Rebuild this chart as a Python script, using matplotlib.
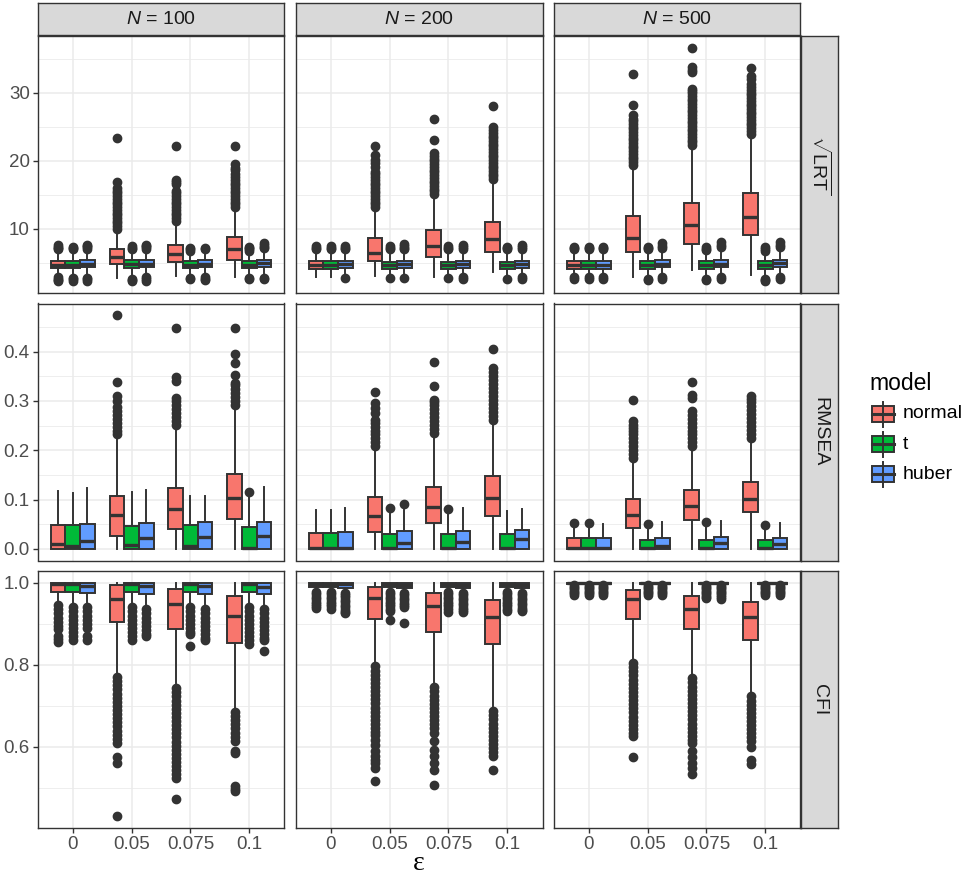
import numpy as np
import matplotlib.pyplot as plt
from matplotlib.patches import Rectangle

plt.rcParams['font.family'] = 'Liberation Sans'
plt.rcParams['mathtext.fontset'] = 'custom'
plt.rcParams['mathtext.rm'] = 'Liberation Sans'
plt.rcParams['mathtext.it'] = 'Liberation Sans:italic'

N_values = [100, 200, 500]
eps_labels = ['0', '0.05', '0.075', '0.1']
models = ['normal', 't', 'huber']
colors = ['#F8766D', '#00BA38', '#619CFF']

# box stats: whislo, q1, median, q3, whishi
# order: N (100, 200, 500) -> eps (0, .05, .075, .1) -> model (normal, t, huber)
lrt_box = [
    [3.2, 4.3, 4.75, 5.35, 6.9], [3.2, 4.3, 4.75, 5.35, 6.9], [3.2, 4.35, 4.8, 5.4, 7.0],
    [2.85, 4.9, 5.9, 7.1, 9.9], [3.2, 4.3, 4.8, 5.4, 6.9], [3.2, 4.35, 4.9, 5.45, 7.0],
    [3.1, 5.2, 6.25, 7.7, 11.1], [3.2, 4.3, 4.75, 5.3, 6.7], [3.2, 4.4, 4.9, 5.45, 6.9],
    [3.0, 5.5, 7.1, 8.8, 12.9], [3.2, 4.3, 4.7, 5.3, 6.7], [3.2, 4.4, 4.95, 5.5, 7.1],
    [3.0, 4.15, 4.75, 5.3, 6.9], [3.0, 4.15, 4.75, 5.3, 6.9], [3.2, 4.2, 4.8, 5.3, 6.9],
    [3.1, 5.3, 6.5, 8.6, 13.1], [3.2, 4.15, 4.7, 5.2, 6.9], [3.2, 4.25, 4.85, 5.35, 6.9],
    [3.0, 5.9, 7.5, 9.8, 15.0], [3.2, 4.15, 4.7, 5.2, 6.9], [3.2, 4.25, 4.85, 5.35, 6.9],
    [3.6, 6.6, 8.45, 11.0, 17.2], [3.2, 4.15, 4.7, 5.2, 6.9], [3.2, 4.25, 4.85, 5.35, 6.9],
    [3.1, 4.15, 4.75, 5.3, 6.9], [3.1, 4.15, 4.75, 5.3, 6.9], [3.1, 4.15, 4.75, 5.3, 6.9],
    [2.95, 6.65, 8.65, 11.95, 19.1], [3.2, 4.15, 4.7, 5.3, 6.9], [3.3, 4.35, 4.9, 5.4, 7.0],
    [4.0, 7.8, 10.5, 13.8, 22.0], [3.2, 4.15, 4.7, 5.3, 6.8], [3.3, 4.35, 4.9, 5.45, 7.1],
    [3.3, 9.1, 11.75, 15.25, 23.8], [3.2, 4.15, 4.7, 5.3, 6.7], [3.3, 4.4, 4.95, 5.5, 7.1],
]
lrt_out = [
    [7.0, 7.2, 7.4, 7.6, 2.3, 2.5, 2.7, 2.9], [7.0, 7.2, 7.4, 2.4, 2.6, 2.8], [7.1, 7.3, 7.5, 7.7, 2.4, 2.6, 2.8],
    [10.0, 10.4, 10.8, 11.2, 11.6, 12.0, 12.4, 12.8, 13.2, 13.6, 14.0, 14.4, 14.8, 15.2, 15.6, 16.0, 16.9, 23.3],
    [7.0, 7.2, 7.5, 2.3, 2.5, 2.7], [7.1, 7.3, 7.5, 7.7, 2.4, 2.6, 2.9],
    [11.2, 11.6, 12.0, 12.4, 12.8, 13.2, 13.6, 14.0, 14.4, 14.8, 15.2, 15.5, 16.6, 16.9, 17.2, 22.1],
    [6.8, 7.0, 7.2, 2.6, 2.8], [7.0, 7.2, 2.5, 2.7, 2.9],
    [13.2, 13.6, 14.0, 14.4, 14.8, 15.2, 15.6, 16.0, 16.4, 16.8, 17.2, 17.6, 18.1, 18.6, 19.0, 19.5, 22.1],
    [6.8, 7.0, 7.2, 7.4, 2.6, 2.8], [7.2, 7.4, 7.6, 7.9, 2.6, 2.8],
    [7.0, 7.2, 7.45], [7.0, 7.2, 7.45], [7.0, 7.2, 7.5, 2.8],
    [13.2, 13.6, 14.0, 14.4, 14.8, 15.2, 15.6, 16.0, 16.4, 16.8, 17.2, 17.6, 18.0, 18.4, 19.1, 19.6, 20.1, 20.8, 22.2],
    [7.0, 7.2, 7.5, 2.85], [7.0, 7.2, 7.5, 7.8, 2.85],
    [15.1, 15.5, 15.9, 16.3, 16.7, 17.1, 17.5, 17.9, 18.3, 18.7, 19.1, 19.5, 19.9, 20.3, 20.7, 21.1, 23.0, 26.2],
    [7.0, 7.2, 7.5, 2.8], [7.0, 7.3, 7.7, 2.6, 2.9],
    [17.3, 17.7, 18.1, 18.5, 18.9, 19.3, 19.7, 20.1, 20.5, 20.9, 21.3, 21.7, 22.1, 22.5, 22.9, 23.3, 23.7,
     24.1, 24.5, 25.0, 28.0],
    [7.0, 7.2, 7.4, 2.6], [7.0, 7.3, 7.6, 2.6, 2.9],
    [7.0, 7.2, 7.4, 2.7, 2.9], [7.0, 7.2, 7.4, 2.7, 2.9], [7.0, 7.2, 7.4, 2.7, 2.9],
    [19.4, 19.8, 20.2, 20.6, 21.0, 21.4, 21.8, 22.2, 22.6, 23.0, 23.4, 23.8, 24.2, 24.6, 25.0, 25.4, 25.8,
     26.2, 26.7, 28.2, 32.8],
    [7.0, 7.2, 7.4, 2.5, 2.7], [7.2, 7.5, 7.9, 2.7, 2.9],
    [22.3, 22.7, 23.1, 23.5, 23.9, 24.3, 24.7, 25.1, 25.5, 25.9, 26.3, 26.7, 27.1, 27.5, 27.9, 28.3, 28.7,
     29.1, 29.5, 29.9, 30.3, 30.6, 33.0, 33.3, 33.7, 36.6],
    [6.9, 7.1, 7.4, 2.5, 2.7], [7.3, 7.6, 8.0, 2.7, 2.9],
    [24.0, 24.4, 24.8, 25.2, 25.6, 26.0, 26.4, 26.8, 27.2, 27.6, 28.0, 28.4, 28.8, 29.2, 29.6, 30.0, 30.4,
     30.8, 31.3, 32.0, 32.5, 33.6],
    [6.8, 7.1, 7.4, 2.3, 2.5, 2.7], [7.3, 7.6, 8.0, 2.6, 2.9],
]

rmsea_box = [
    [0, 0, 0.010, 0.049, 0.118], [0, 0, 0.006, 0.049, 0.114], [0, 0, 0.015, 0.050, 0.123],
    [0, 0.026, 0.068, 0.108, 0.228], [0, 0, 0.008, 0.047, 0.115], [0, 0, 0.022, 0.053, 0.120],
    [0, 0.040, 0.081, 0.124, 0.248], [0, 0, 0.005, 0.048, 0.108], [0, 0, 0.024, 0.055, 0.108],
    [0, 0.060, 0.103, 0.152, 0.288], [0, 0, 0.001, 0.045, 0.106], [0, 0, 0.026, 0.055, 0.125],
    [0, 0, 0.001, 0.033, 0.079], [0, 0, 0.001, 0.033, 0.079], [0, 0, 0.001, 0.034, 0.082],
    [0, 0.035, 0.067, 0.106, 0.204], [0, 0, 0.001, 0.030, 0.072], [0, 0, 0.0115, 0.0365, 0.079],
    [0, 0.052, 0.0845, 0.126, 0.231], [0, 0, 0.001, 0.030, 0.072], [0, 0, 0.013, 0.037, 0.082],
    [0, 0.067, 0.1035, 0.147, 0.258], [0, 0, 0.001, 0.030, 0.076], [0, 0, 0.020, 0.0385, 0.081],
    [0, 0, 0.001, 0.0216, 0.044], [0, 0, 0.001, 0.0216, 0.044], [0, 0, 0.001, 0.0216, 0.050],
    [0, 0.043, 0.0676, 0.101, 0.180], [0, 0, 0.001, 0.018, 0.044], [0, 0, 0.005, 0.0216, 0.054],
    [0, 0.059, 0.087, 0.120, 0.204], [0, 0, 0.001, 0.018, 0.045], [0, 0, 0.0115, 0.023, 0.057],
    [0, 0.074, 0.1007, 0.135, 0.221], [0, 0, 0.001, 0.017, 0.042], [0, 0, 0.010, 0.0216, 0.052],
]
rmsea_out = [
    [], [], [],
    [0.232, 0.240, 0.248, 0.256, 0.264, 0.272, 0.280, 0.288, 0.300, 0.310, 0.338, 0.474], [], [],
    [0.252, 0.260, 0.268, 0.276, 0.284, 0.292, 0.300, 0.306, 0.340, 0.348, 0.449], [], [],
    [0.292, 0.300, 0.308, 0.316, 0.324, 0.332, 0.336, 0.353, 0.378, 0.395, 0.449], [0.116], [],
    [], [], [],
    [0.208, 0.216, 0.224, 0.232, 0.240, 0.248, 0.256, 0.262, 0.275, 0.285, 0.295, 0.319], [0.082], [0.091],
    [0.235, 0.243, 0.251, 0.259, 0.267, 0.275, 0.283, 0.291, 0.298, 0.302, 0.331, 0.380], [0.081], [],
    [0.262, 0.270, 0.278, 0.286, 0.294, 0.302, 0.310, 0.318, 0.326, 0.334, 0.342, 0.350, 0.358, 0.366,
     0.405], [], [],
    [0.052], [0.052], [],
    [0.184, 0.192, 0.200, 0.208, 0.216, 0.224, 0.232, 0.240, 0.246, 0.251, 0.260, 0.301], [0.050], [],
    [0.208, 0.216, 0.224, 0.232, 0.240, 0.248, 0.256, 0.264, 0.272, 0.279, 0.306, 0.312, 0.338], [0.054], [],
    [0.225, 0.233, 0.241, 0.249, 0.257, 0.265, 0.273, 0.281, 0.289, 0.297, 0.304, 0.310], [0.049], [],
]

cfi_box = [
    [0.950, 0.9765, 0.996, 1.0, 1.0], [0.945, 0.9765, 0.997, 1.0, 1.0], [0.950, 0.976, 0.993, 1.0, 1.0],
    [0.776, 0.904, 0.960, 0.994, 1.0], [0.948, 0.9765, 0.997, 1.0, 1.0], [0.942, 0.972, 0.992, 1.0, 1.0],
    [0.755, 0.887, 0.947, 0.985, 1.0], [0.948, 0.9765, 0.997, 1.0, 1.0], [0.942, 0.972, 0.992, 1.0, 1.0],
    [0.690, 0.854, 0.919, 0.968, 1.0], [0.948, 0.9765, 0.997, 1.0, 1.0], [0.942, 0.972, 0.990, 1.0, 1.0],
    [0.982, 0.990, 0.996, 1.0, 1.0], [0.982, 0.990, 0.997, 1.0, 1.0], [0.980, 0.988, 0.996, 1.0, 1.0],
    [0.800, 0.911, 0.962, 0.989, 1.0], [0.982, 0.990, 0.997, 1.0, 1.0], [0.980, 0.986, 0.995, 1.0, 1.0],
    [0.747, 0.881, 0.942, 0.974, 1.0], [0.982, 0.990, 0.997, 1.0, 1.0], [0.980, 0.986, 0.995, 1.0, 1.0],
    [0.690, 0.850, 0.916, 0.958, 1.0], [0.982, 0.990, 0.997, 1.0, 1.0], [0.980, 0.986, 0.995, 1.0, 1.0],
    [0.996, 0.997, 0.999, 1.0, 1.0], [0.996, 0.997, 0.999, 1.0, 1.0], [0.996, 0.997, 0.999, 1.0, 1.0],
    [0.808, 0.911, 0.960, 0.982, 1.0], [0.996, 0.997, 0.999, 1.0, 1.0], [0.996, 0.997, 0.999, 1.0, 1.0],
    [0.767, 0.887, 0.936, 0.968, 1.0], [0.996, 0.997, 0.999, 1.0, 1.0], [0.996, 0.997, 0.999, 1.0, 1.0],
    [0.723, 0.861, 0.916, 0.952, 1.0], [0.996, 0.997, 0.999, 1.0, 1.0], [0.996, 0.997, 0.999, 1.0, 1.0],
]
cfi_out = [
    [0.945, 0.935, 0.925, 0.915, 0.905, 0.895, 0.886, 0.869, 0.862, 0.855],
    [0.940, 0.930, 0.920, 0.910, 0.900, 0.890, 0.880, 0.870, 0.860],
    [0.940, 0.930, 0.920, 0.910, 0.900, 0.890, 0.870, 0.860],
    [0.770, 0.760, 0.750, 0.740, 0.730, 0.720, 0.710, 0.700, 0.690, 0.680, 0.670, 0.660, 0.650, 0.640,
     0.630, 0.620, 0.610, 0.575, 0.560, 0.431],
    [0.940, 0.930, 0.920, 0.910, 0.900, 0.890, 0.880, 0.870, 0.860],
    [0.935, 0.925, 0.915, 0.905, 0.895, 0.885, 0.875, 0.870],
    [0.743, 0.733, 0.723, 0.713, 0.703, 0.693, 0.683, 0.673, 0.663, 0.653, 0.643, 0.633, 0.623, 0.613,
     0.603, 0.593, 0.583, 0.573, 0.563, 0.553, 0.543, 0.533, 0.524, 0.472],
    [0.940, 0.930, 0.920, 0.910, 0.900, 0.890, 0.880, 0.875, 0.846],
    [0.935, 0.925, 0.915, 0.905, 0.895, 0.885, 0.875, 0.865, 0.860],
    [0.685, 0.675, 0.665, 0.655, 0.645, 0.635, 0.625, 0.615, 0.589, 0.585, 0.504, 0.498, 0.492],
    [0.940, 0.930, 0.920, 0.910, 0.900, 0.890, 0.880, 0.870, 0.860, 0.850],
    [0.935, 0.925, 0.915, 0.905, 0.895, 0.885, 0.875, 0.865, 0.860, 0.834],
    [0.978, 0.972, 0.966, 0.960, 0.954, 0.948, 0.942, 0.938],
    [0.978, 0.972, 0.966, 0.960, 0.954, 0.948, 0.942, 0.935],
    [0.976, 0.970, 0.964, 0.958, 0.952, 0.946, 0.940, 0.934, 0.928, 0.925],
    [0.796, 0.786, 0.776, 0.766, 0.756, 0.746, 0.736, 0.726, 0.716, 0.706, 0.696, 0.686, 0.676, 0.666,
     0.656, 0.646, 0.636, 0.630, 0.618, 0.605, 0.590, 0.578, 0.569, 0.560, 0.548, 0.518],
    [0.978, 0.972, 0.966, 0.960, 0.954, 0.948, 0.942, 0.936, 0.930, 0.909],
    [0.975, 0.969, 0.963, 0.957, 0.951, 0.945, 0.940, 0.901],
    [0.745, 0.735, 0.725, 0.715, 0.705, 0.695, 0.685, 0.675, 0.665, 0.655, 0.645, 0.634, 0.614, 0.593,
     0.577, 0.561, 0.545, 0.507],
    [0.978, 0.972, 0.966, 0.960, 0.954, 0.948, 0.942, 0.936, 0.928],
    [0.975, 0.969, 0.963, 0.957, 0.951, 0.945, 0.939, 0.933, 0.928],
    [0.687, 0.677, 0.667, 0.657, 0.647, 0.637, 0.627, 0.617, 0.607, 0.597, 0.587, 0.577, 0.545],
    [0.978, 0.972, 0.966, 0.960, 0.954, 0.948, 0.942, 0.936, 0.930],
    [0.975, 0.969, 0.963, 0.957, 0.951, 0.945, 0.939, 0.933, 0.930],
    [0.994, 0.990, 0.986, 0.982, 0.978, 0.974, 0.971],
    [0.994, 0.990, 0.986, 0.982, 0.978, 0.974, 0.971],
    [0.994, 0.990, 0.986, 0.982, 0.978, 0.974, 0.971],
    [0.804, 0.794, 0.784, 0.774, 0.764, 0.754, 0.744, 0.734, 0.724, 0.714, 0.704, 0.694, 0.684, 0.674,
     0.664, 0.654, 0.644, 0.634, 0.626, 0.576],
    [0.994, 0.990, 0.986, 0.982, 0.978, 0.974, 0.971],
    [0.994, 0.990, 0.986, 0.982, 0.978, 0.974, 0.971],
    [0.767, 0.757, 0.747, 0.737, 0.727, 0.717, 0.707, 0.697, 0.687, 0.677, 0.667, 0.657, 0.647, 0.637,
     0.627, 0.617, 0.610, 0.590, 0.575, 0.560, 0.548, 0.535],
    [0.994, 0.990, 0.986, 0.982, 0.978, 0.974, 0.970, 0.966, 0.962],
    [0.994, 0.990, 0.986, 0.982, 0.978, 0.974, 0.970, 0.966, 0.961],
    [0.723, 0.713, 0.703, 0.693, 0.683, 0.673, 0.663, 0.653, 0.643, 0.633, 0.623, 0.614, 0.601, 0.569,
     0.559],
    [0.994, 0.990, 0.986, 0.982, 0.978, 0.974, 0.971],
    [0.994, 0.990, 0.986, 0.982, 0.978, 0.974, 0.970],
]

rows = [
    (r'$\sqrt{\mathrm{LRT}}$', lrt_box, lrt_out, [10, 20, 30], [5, 15, 25, 35], ['10', '20', '30']),
    ('RMSEA', rmsea_box, rmsea_out, [0, 0.1, 0.2, 0.3, 0.4], [0.05, 0.15, 0.25, 0.35, 0.45],
     ['0.0', '0.1', '0.2', '0.3', '0.4']),
    ('CFI', cfi_box, cfi_out, [0.6, 0.8, 1.0], [0.5, 0.7, 0.9], ['0.6', '0.8', '1.0']),
]

W, H = 964, 876
fig = plt.figure(figsize=(W / 100, H / 100), dpi=100)


def fig_rect(x, y, w, h):
    return [x / W, 1 - (y + h) / H, w / W, h / H]


col_left = [37.5, 295.5, 553.5]
col_w = 247
row_top = [36, 303.5, 571]
row_h = 257
dark = '#333333'

for r, (rlab, box, out, major, minor, ylabels) in enumerate(rows):
    allv = [v for b in box for v in b] + [v for o in out for v in o]
    lo, hi = min(allv), max(allv)
    pad = (hi - lo) * 0.05
    for c in range(3):
        ax = fig.add_axes(fig_rect(col_left[c], row_top[r], col_w, row_h))
        for m in range(3):
            stats, pos = [], []
            for e in range(4):
                i = c * 12 + e * 3 + m
                wl, q1, med, q3, wh = box[i]
                stats.append(dict(whislo=wl, q1=q1, med=med, q3=q3, whishi=wh, fliers=out[i]))
                pos.append(e + 1 + (m - 1) * 0.25)
            ax.bxp(stats, positions=pos, widths=0.25, patch_artist=True, showcaps=False,
                   boxprops=dict(facecolor=colors[m], edgecolor=dark, linewidth=1.4),
                   medianprops=dict(color=dark, linewidth=2.4),
                   whiskerprops=dict(color=dark, linewidth=1.4),
                   flierprops=dict(marker='o', markersize=6, markerfacecolor=dark,
                                   markeredgecolor=dark, linestyle='none'),
                   manage_ticks=False)
        ax.set_xlim(0.4, 4.6)
        ax.set_ylim(lo - pad, hi + pad)
        ax.set_xticks([1, 2, 3, 4])
        ax.set_xticklabels(eps_labels)
        ax.set_yticks(major)
        ax.set_yticklabels(ylabels)
        ax.set_yticks(minor, minor=True)
        ax.set_axisbelow(True)
        ax.grid(which='major', color='#EBEBEB', linewidth=1.1)
        ax.grid(which='minor', axis='y', color='#EBEBEB', linewidth=0.6)
        for s in ax.spines.values():
            s.set_color(dark)
            s.set_linewidth(1.0)
        ax.tick_params(which='minor', length=0)
        ax.tick_params(which='major', length=3.5, width=1, color=dark, labelsize=13.5,
                       labelcolor='#4D4D4D', pad=2)
        if c > 0:
            ax.tick_params(axis='y', left=False, labelleft=False)
        if r < 2:
            ax.tick_params(axis='x', bottom=False, labelbottom=False)

        if r == 0:
            st = fig.add_axes(fig_rect(col_left[c], 3, col_w, 32))
            st.set_facecolor('#D9D9D9')
            st.set_xticks([])
            st.set_yticks([])
            for s in st.spines.values():
                s.set_color(dark)
                s.set_linewidth(1.0)
            st.text(0.5, 0.5, r'$N$ = %d' % N_values[c], ha='center', va='center',
                    fontsize=14, color='#1A1A1A', transform=st.transAxes)

    rs = fig.add_axes(fig_rect(801, row_top[r], 37, row_h))
    rs.set_facecolor('#D9D9D9')
    rs.set_xticks([])
    rs.set_yticks([])
    for s in rs.spines.values():
        s.set_color(dark)
        s.set_linewidth(1.0)
    rs.text(0.5, 0.5, rlab, ha='center', va='center', rotation=-90, fontsize=14,
            color='#1A1A1A', transform=rs.transAxes)

# overlay for legend and x title
ov = fig.add_axes([0, 0, 1, 1])
ov.set_xlim(0, W)
ov.set_ylim(H, 0)
ov.axis('off')
ov.text(419, 864, 'ε', ha='center', va='center', fontsize=20, family='Liberation Serif')
ov.text(869, 383, 'model', ha='left', va='center', fontsize=16.5, color='black')
for k, name in enumerate(models):
    yc = 414 + k * 30.2
    ov.plot([883, 883], [yc - 12.5, yc + 12.5], color=dark, linewidth=1.4)
    ov.add_patch(Rectangle((872, yc - 8), 22, 16, facecolor=colors[k], edgecolor=dark, linewidth=1.4))
    ov.plot([872, 894], [yc, yc], color=dark, linewidth=2.2)
    ov.text(903, yc, name, ha='left', va='center', fontsize=14, color='black')

fig.savefig('out.png', dpi=100)
